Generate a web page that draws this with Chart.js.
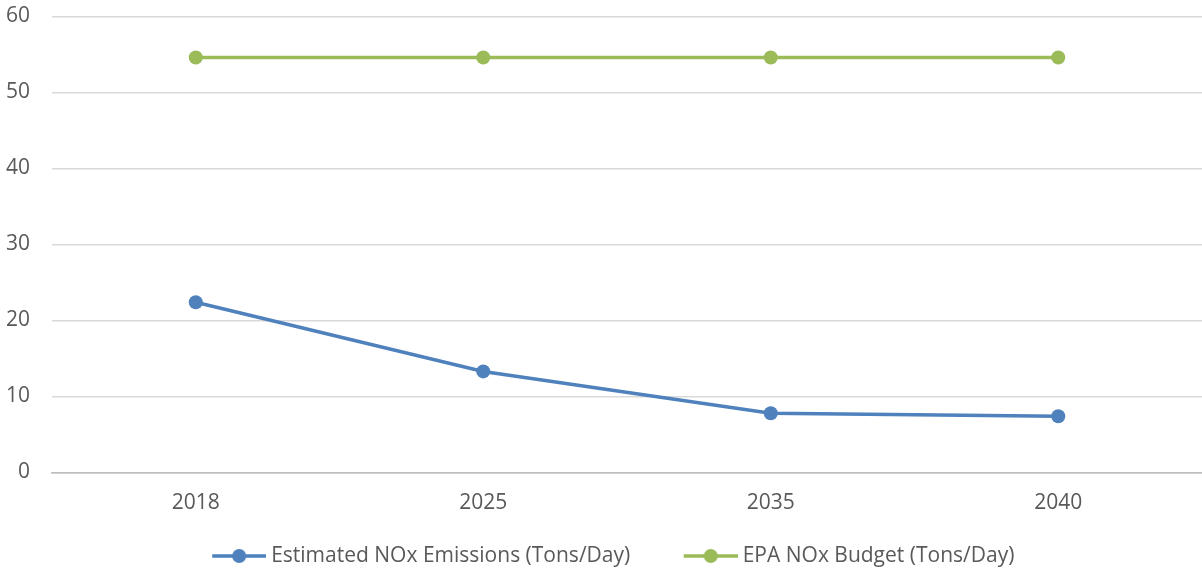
<!DOCTYPE html>
<html>
<head>
<meta charset="utf-8">
<script src="https://cdn.jsdelivr.net/npm/chart.js@4"></script>
<style>
  html, body { margin: 0; padding: 0; background: #fff; overflow: hidden; }
  #wrap { width: 1202px; height: 569px; }
</style>
</head>
<body>
<div id="wrap"><canvas id="noxChart"></canvas></div>
<script>
// Chart data
const years = ['2018', '2025', '2035', '2040'];
const estimatedEmissions = [22.4, 13.3, 7.8, 7.4];
const epaBudget = [54.6, 54.6, 54.6, 54.6];
const yTicks = [0, 10, 20, 30, 40, 50, 60];

const blue = '#4f81bd';
const green = '#9bbb59';
const textColor = '#595959';
const fontFamily = "'Open Sans', 'Noto Sans', sans-serif";

// legend marker: blank lead-in (spacing between items), then a line with a dot
const markerLead = 24;
const markerLen = 54;
function legendMarker(color) {
    const c = document.createElement('canvas');
    c.width = markerLead + markerLen;
    c.height = 16;
    const g = c.getContext('2d');
    g.strokeStyle = color;
    g.lineWidth = 3.5;
    g.beginPath();
    g.moveTo(markerLead, 8);
    g.lineTo(markerLead + markerLen, 8);
    g.stroke();
    g.fillStyle = color;
    g.beginPath();
    g.arc(markerLead + markerLen / 2, 8, 7, 0, Math.PI * 2);
    g.fill();
    return c;
}

function createChart() {
    const ctx = document.getElementById('noxChart').getContext('2d');
    new Chart(ctx, {
        type: 'line',
        data: {
            labels: years,
            datasets: [{
                label: 'Estimated NOx Emissions (Tons/Day)',
                data: estimatedEmissions,
                borderColor: blue,
                backgroundColor: blue,
                borderWidth: 3.5,
                pointRadius: 7,
                pointHoverRadius: 7,
                pointBorderWidth: 0,
                tension: 0
            }, {
                label: 'EPA NOx Budget (Tons/Day)',
                data: epaBudget,
                borderColor: green,
                backgroundColor: green,
                borderWidth: 3.5,
                pointRadius: 7,
                pointHoverRadius: 7,
                pointBorderWidth: 0,
                tension: 0
            }]
        },
        options: {
            responsive: true,
            maintainAspectRatio: false,
            animation: false,
            layout: {
                autoPadding: false,
                padding: { top: 0, right: 0, left: 6, bottom: -7.5 }
            },
            plugins: {
                tooltip: { enabled: false },
                legend: {
                    position: 'bottom',
                    labels: {
                        color: textColor,
                        font: { family: fontFamily, size: 21 },
                        usePointStyle: true,
                        // narrower than the marker so the text sits close to it
                        pointStyleWidth: markerLead + markerLen - 11,
                        padding: 35,
                        generateLabels: (chart) => chart.data.datasets.map((ds, i) => ({
                            text: ds.label,
                            fillStyle: ds.borderColor,
                            strokeStyle: ds.borderColor,
                            pointStyle: legendMarker(ds.borderColor),
                            datasetIndex: i,
                            hidden: false,
                            fontColor: textColor
                        }))
                    }
                }
            },
            scales: {
                x: {
                    offset: true,
                    afterFit: (axis) => { axis.height = 38; },
                    grid: { display: false, drawTicks: false },
                    border: { color: '#bfbfbf', width: 1.5 },
                    ticks: {
                        color: textColor,
                        font: { family: fontFamily, size: 21 },
                        padding: 18
                    }
                },
                y: {
                    min: 0,
                    max: 60,
                    afterBuildTicks: (axis) => {
                        axis.ticks = yTicks.map(v => ({ value: v }));
                    },
                    afterFit: (axis) => {
                        axis.width = 46;
                        axis.paddingTop = 16.5;
                        axis.paddingBottom = 0;
                    },
                    grid: {
                        color: (c) => c.tick.value === 0 ? '#bfbfbf' : '#d9d9d9',
                        lineWidth: 1.5,
                        drawTicks: false
                    },
                    border: { display: false },
                    ticks: {
                        color: textColor,
                        font: { family: fontFamily, size: 21 },
                        padding: 22
                    }
                }
            }
        }
    });
}

document.addEventListener('DOMContentLoaded', createChart);
</script>
</body>
</html>
